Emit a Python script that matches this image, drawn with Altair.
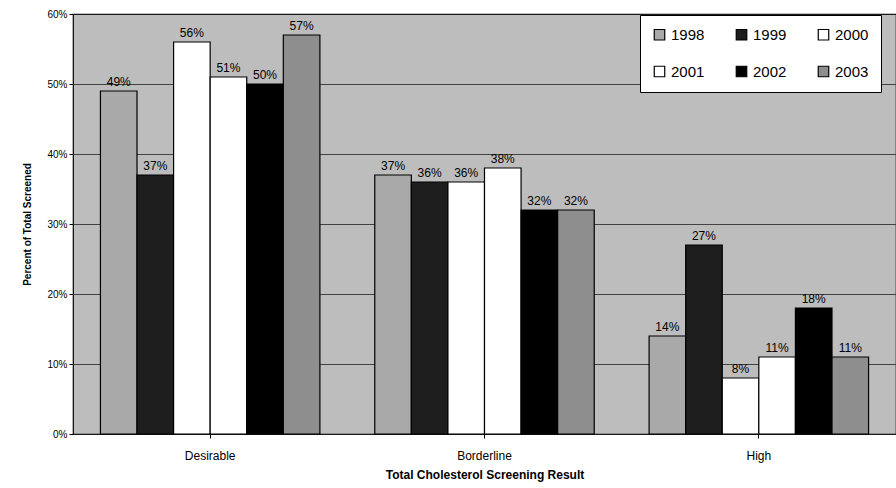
import altair as alt
import pandas as pd

# Screening results by year (share of all people screened)
categories = ["Desirable", "Borderline", "High"]
years = ["1998", "1999", "2000", "2001", "2002", "2003"]
desirable = [49, 37, 56, 51, 50, 57]
borderline = [37, 36, 36, 38, 32, 32]
high = [14, 27, 8, 11, 18, 11]
year_colors = ["#a9a9a9", "#1e1e1e", "#ffffff", "#ffffff", "#000000", "#8e8e8e"]

rows = []
for cat, vals in zip(categories, [desirable, borderline, high]):
    for yr, v in zip(years, vals):
        rows.append({"result": cat, "year": yr, "pct": v / 100, "label": f"{v}%"})
df = pd.DataFrame(rows)

font = "Liberation Sans"

x_enc = alt.X(
    "result:N",
    sort=categories,
    scale=alt.Scale(paddingInner=0.2, paddingOuter=0.1),
    axis=alt.Axis(
        title="Total Cholesterol Screening Result",
        labelAngle=0,
        labelFontSize=12,
        labelPadding=12,
        titleFontSize=12,
        titleFontWeight="bold",
        titlePadding=8,
        tickSize=4,
        domain=False,
    ),
)
xo_enc = alt.XOffset("year:N", sort=years)

bars = alt.Chart(df).mark_bar(stroke="black", strokeWidth=1.2).encode(
    x=x_enc,
    xOffset=xo_enc,
    y=alt.Y(
        "pct:Q",
        scale=alt.Scale(domain=[0, 0.6]),
        axis=alt.Axis(
            title="Percent of Total Screened",
            format=".0%",
            values=[0, 0.1, 0.2, 0.3, 0.4, 0.5, 0.6],
            labelFontSize=10,
            titleFontSize=10,
            titlePadding=14,
            tickSize=4,
            grid=True,
            gridColor="#222222",
            gridWidth=0.8,
            domain=False,
        ),
    ),
    fill=alt.Fill(
        "year:N",
        sort=years,
        scale=alt.Scale(domain=years, range=year_colors),
        legend=alt.Legend(
            title=None,
            orient="none",
            legendX=567,
            legendY=1,
            direction="horizontal",
            columns=3,
            symbolType="square",
            symbolSize=110,
            symbolStrokeColor="black",
            symbolStrokeWidth=1.2,
            labelFontSize=15,
            labelFont=font,
            columnPadding=28,
            rowPadding=20,
            padding=12,
            fillColor="white",
            strokeColor="black",
        ),
    ),
)

labels = alt.Chart(df).mark_text(
    baseline="bottom", dy=-2, fontSize=12, font=font, color="black"
).encode(
    x=alt.X("result:N", sort=categories),
    xOffset=xo_enc,
    y="pct:Q",
    text="label:N",
)

chart = (
    alt.layer(bars, labels)
    .properties(
        width=823,
        height=420,
        autosize=alt.AutoSizeParams(type="none"),
        padding={"left": 73, "top": 14, "right": 0, "bottom": 54},
    )
    .configure(font=font, background="white")
    .configure_view(fill="#bdbdbd", stroke="black", strokeWidth=1.2)
    .configure_axis(labelColor="black", titleColor="black", tickColor="black", labelFont=font, titleFont=font)
)

chart.save("out.html", embed_options={"renderer": "svg", "actions": False})
